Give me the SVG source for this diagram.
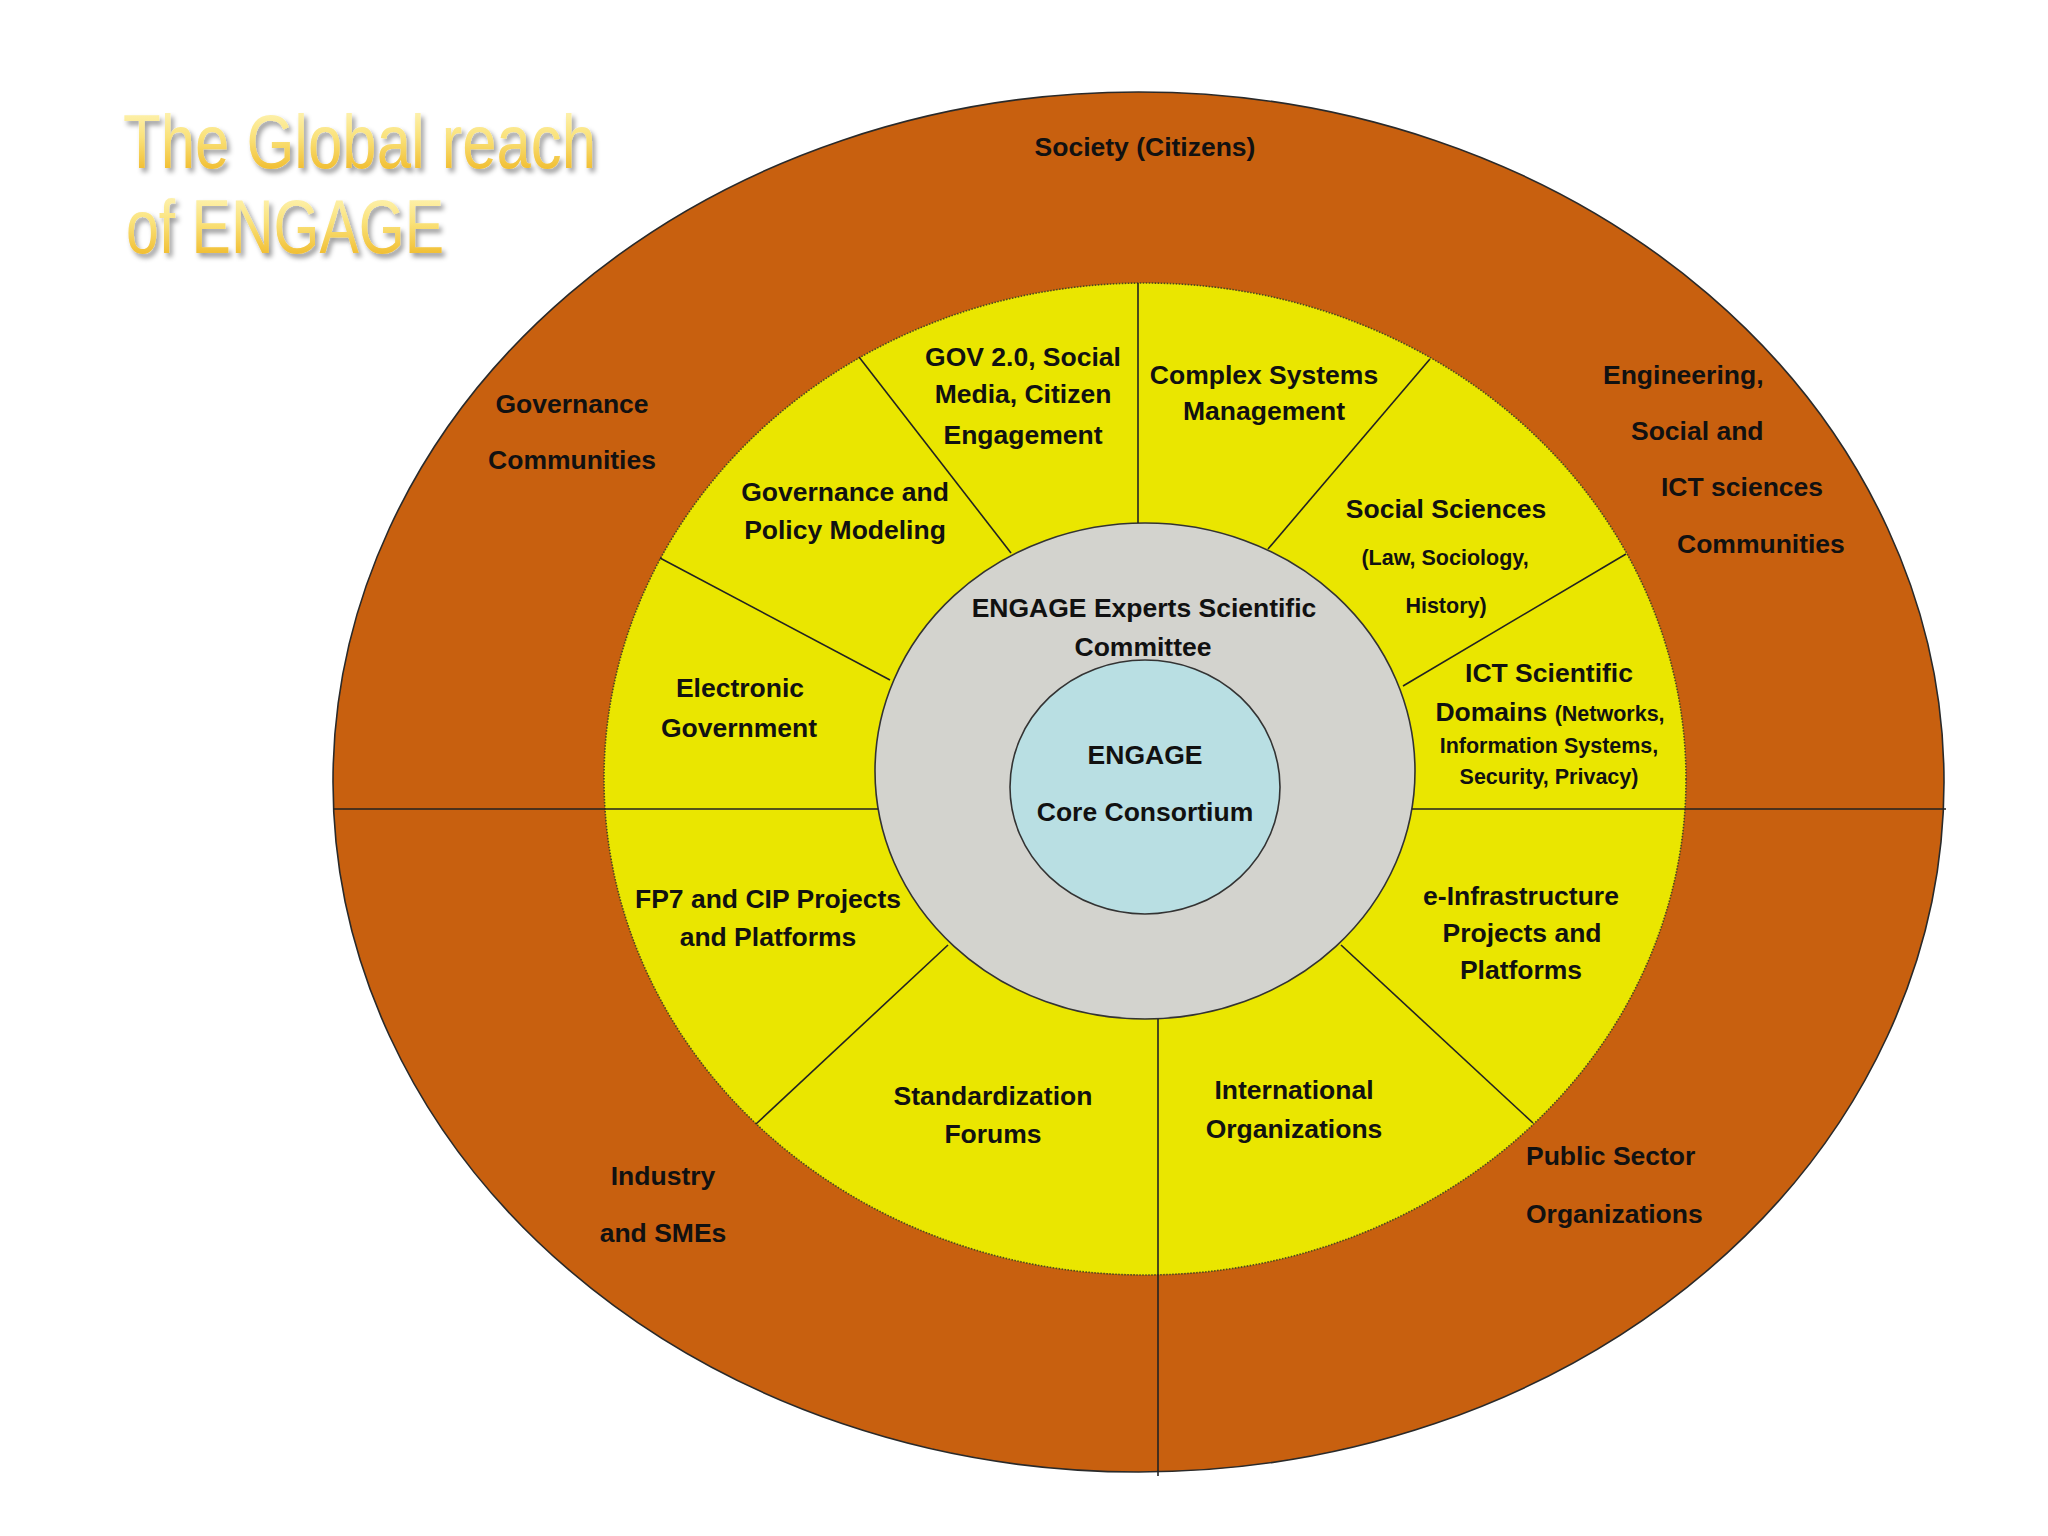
<svg xmlns="http://www.w3.org/2000/svg" width="2048" height="1536" viewBox="0 0 2048 1536">
  <defs>
    <linearGradient id="titleGrad" x1="0" y1="0" x2="0" y2="1">
      <stop offset="0" stop-color="#FFF9C8"/>
      <stop offset="0.45" stop-color="#FAE27A"/>
      <stop offset="1" stop-color="#EDAE12"/>
    </linearGradient>
    <filter id="shadow" x="-10%" y="-20%" width="120%" height="150%">
      <feDropShadow dx="3" dy="4" stdDeviation="2.5" flood-color="#000" flood-opacity="0.4"/>
    </filter>
    <style>
      .lbl { font-family: "Liberation Sans", Arial, sans-serif; font-weight: bold; font-size: 26.5px; fill: #111; text-anchor: middle; }
      .start { text-anchor: start; }
      .sm { font-size: 21.5px; }
      .spoke { stroke: #222; stroke-width: 1.6; fill: none; }
      .title { font-family: "Liberation Sans", Arial, sans-serif; font-size: 76px; fill: url(#titleGrad); filter: url(#shadow); }
    </style>
  </defs>
  <rect width="2048" height="1536" fill="#FFFFFF"/>

  <g id="title">
    <text class="title" x="123" y="168" textLength="473" lengthAdjust="spacingAndGlyphs">The Global reach</text>
    <text class="title" x="126" y="253" textLength="318" lengthAdjust="spacingAndGlyphs">of ENGAGE</text>
  </g>

  <g id="outer-ring">
    <ellipse cx="1138.5" cy="782" rx="805.5" ry="690" fill="#C8600F" stroke="#2a2a2a" stroke-width="1.6"/>
  </g>
  <g id="middle-ring">
    <ellipse cx="1145" cy="779" rx="541" ry="496" fill="#EAE600" stroke="#4a4a20" stroke-width="1.6" stroke-dasharray="1.5 1.5"/>
  </g>
  <g id="committee">
    <ellipse cx="1145" cy="771" rx="270" ry="248" fill="#D3D3CE" stroke="#333" stroke-width="1.6"/>
  </g>
  <g id="core">
    <ellipse cx="1145" cy="787" rx="135" ry="127" fill="#B9DFE3" stroke="#333" stroke-width="1.6"/>
  </g>

  <g id="connectors">
    <line class="spoke" x1="333" y1="809" x2="878" y2="809"/>
    <line class="spoke" x1="1412" y1="809" x2="1946" y2="809"/>
    <line class="spoke" x1="1138" y1="283" x2="1138" y2="523"/>
    <line class="spoke" x1="859" y1="357" x2="1011" y2="553"/>
    <line class="spoke" x1="660" y1="558" x2="890" y2="680"/>
    <line class="spoke" x1="1430" y1="359" x2="1268" y2="549"/>
    <line class="spoke" x1="1626" y1="554" x2="1403" y2="686"/>
    <line class="spoke" x1="948" y1="945" x2="756" y2="1124"/>
    <line class="spoke" x1="1158" y1="1019" x2="1158" y2="1476"/>
    <line class="spoke" x1="1341" y1="945" x2="1533" y2="1123"/>
  </g>

  <g id="society">
    <text class="lbl" x="1145" y="156">Society (Citizens)</text>
  </g>
  <g id="governance-communities">
    <text class="lbl" x="572" y="413">Governance</text>
    <text class="lbl" x="572" y="469">Communities</text>
  </g>
  <g id="engineering-communities">
    <text class="lbl start" x="1603" y="384">Engineering,</text>
    <text class="lbl start" x="1631" y="440">Social and</text>
    <text class="lbl start" x="1661" y="496">ICT sciences</text>
    <text class="lbl start" x="1677" y="553">Communities</text>
  </g>
  <g id="industry">
    <text class="lbl" x="663" y="1185">Industry</text>
    <text class="lbl" x="663" y="1242">and SMEs</text>
  </g>
  <g id="public-sector">
    <text class="lbl start" x="1526" y="1165">Public Sector</text>
    <text class="lbl start" x="1526" y="1223">Organizations</text>
  </g>

  <g id="gov20">
    <text class="lbl" x="1023" y="366">GOV 2.0, Social</text>
    <text class="lbl" x="1023" y="403">Media, Citizen</text>
    <text class="lbl" x="1023" y="444">Engagement</text>
  </g>
  <g id="complex-systems">
    <text class="lbl" x="1264" y="384">Complex Systems</text>
    <text class="lbl" x="1264" y="420">Management</text>
  </g>
  <g id="governance-policy">
    <text class="lbl" x="845" y="501">Governance and</text>
    <text class="lbl" x="845" y="539">Policy Modeling</text>
  </g>
  <g id="social-sciences">
    <text class="lbl" x="1446" y="518">Social Sciences</text>
    <text class="lbl sm" x="1445" y="565">(Law, Sociology,</text>
    <text class="lbl sm" x="1446" y="613">History)</text>
  </g>
  <g id="electronic-government">
    <text class="lbl" x="740" y="697">Electronic</text>
    <text class="lbl" x="739" y="737">Government</text>
  </g>
  <g id="ict-domains">
    <text class="lbl" x="1549" y="682">ICT Scientific</text>
    <text class="lbl" x="1550" y="721">Domains <tspan class="sm">(Networks,</tspan></text>
    <text class="lbl sm" x="1549" y="753">Information Systems,</text>
    <text class="lbl sm" x="1549" y="784">Security, Privacy)</text>
  </g>
  <g id="fp7">
    <text class="lbl" x="768" y="908">FP7 and CIP Projects</text>
    <text class="lbl" x="768" y="946">and Platforms</text>
  </g>
  <g id="standardization">
    <text class="lbl" x="993" y="1105">Standardization</text>
    <text class="lbl" x="993" y="1143">Forums</text>
  </g>
  <g id="international">
    <text class="lbl" x="1294" y="1099">International</text>
    <text class="lbl" x="1294" y="1138">Organizations</text>
  </g>
  <g id="e-infrastructure">
    <text class="lbl" x="1521" y="905">e-Infrastructure</text>
    <text class="lbl" x="1522" y="942">Projects and</text>
    <text class="lbl" x="1521" y="979">Platforms</text>
  </g>

  <g id="committee-label">
    <text class="lbl" x="1144" y="617">ENGAGE Experts Scientific</text>
    <text class="lbl" x="1143" y="656">Committee</text>
  </g>
  <g id="core-label">
    <text class="lbl" x="1145" y="764">ENGAGE</text>
    <text class="lbl" x="1145" y="821">Core Consortium</text>
  </g>
</svg>
